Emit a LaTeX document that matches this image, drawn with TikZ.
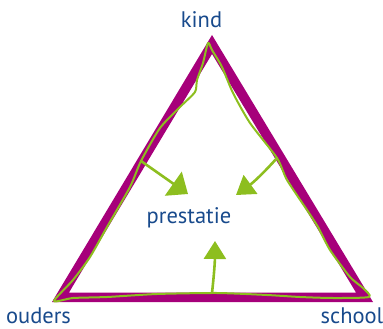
\documentclass[tikz,border=0pt]{standalone}
\usepackage{fontspec}
\setmainfont{PT Sans}
\usetikzlibrary{arrows.meta}
\definecolor{band}{RGB}{166,0,122}
\definecolor{lime}{RGB}{141,190,31}
\definecolor{txt}{RGB}{24,74,140}
\tikzset{
  lbl/.style={text=txt, font=\fontsize{22.5}{22.5}\selectfont, anchor=base, inner sep=0pt},
  wobble/.style={draw=lime, line width=2pt, line join=round, line cap=round},
  influence/.style={draw=lime, line width=2.6pt, line cap=round}
}
\begin{document}
\begin{tikzpicture}[x=1pt,y=-1pt]
\useasboundingbox (0,0) rectangle (383,329);
% purple triangle band
\fill[band, even odd rule] (212,35) -- (373,302) -- (52,302) -- cycle
  (212,54) -- (356,292.5) -- (69,292.5) -- cycle;
% green hand-drawn loop
\draw[wobble] plot[smooth cycle, tension=0.4] coordinates {
 (208,43) (203,63) (197,80) (195,92) (180,107) (160,128) (141,161)
 (130,187) (107,227) (90,257) (73,280) (54,301)
 (73,298) (107,297) (157,294) (217,293) (267,295) (300,297) (333,298) (369,297)
 (363,288) (350,277) (330,250) (318,227) (307,210) (287,180) (277,158)
 (250,123) (233,93) (222,67) (212,50)};
% labels
\node[lbl] (kind) at (201.5,28) {kind};
\node[lbl] (ouders) at (38.5,323) {ouders};
\node[lbl] (school) at (352,323) {school};
\node[lbl] (prestatie) at (189,223) {prestatie};
% influence arrows
\coordinate (a1) at (141,161);
\coordinate (h1) at (188,194);
\coordinate (a2) at (277,158);
\coordinate (h2) at (236,195);
\coordinate (a3) at (212,293);
\coordinate (h3) at (215,241);
\draw[influence, -{Triangle[length=18pt,width=29pt]}] (a1) -- (h1);
\draw[influence, -{Triangle[length=18pt,width=23pt]}] (a2) to[bend left=6] (h2);
\draw[influence, -{Triangle[length=18pt,width=22pt]}] (a3) to[bend right=3] (h3);
\end{tikzpicture}
\end{document}
